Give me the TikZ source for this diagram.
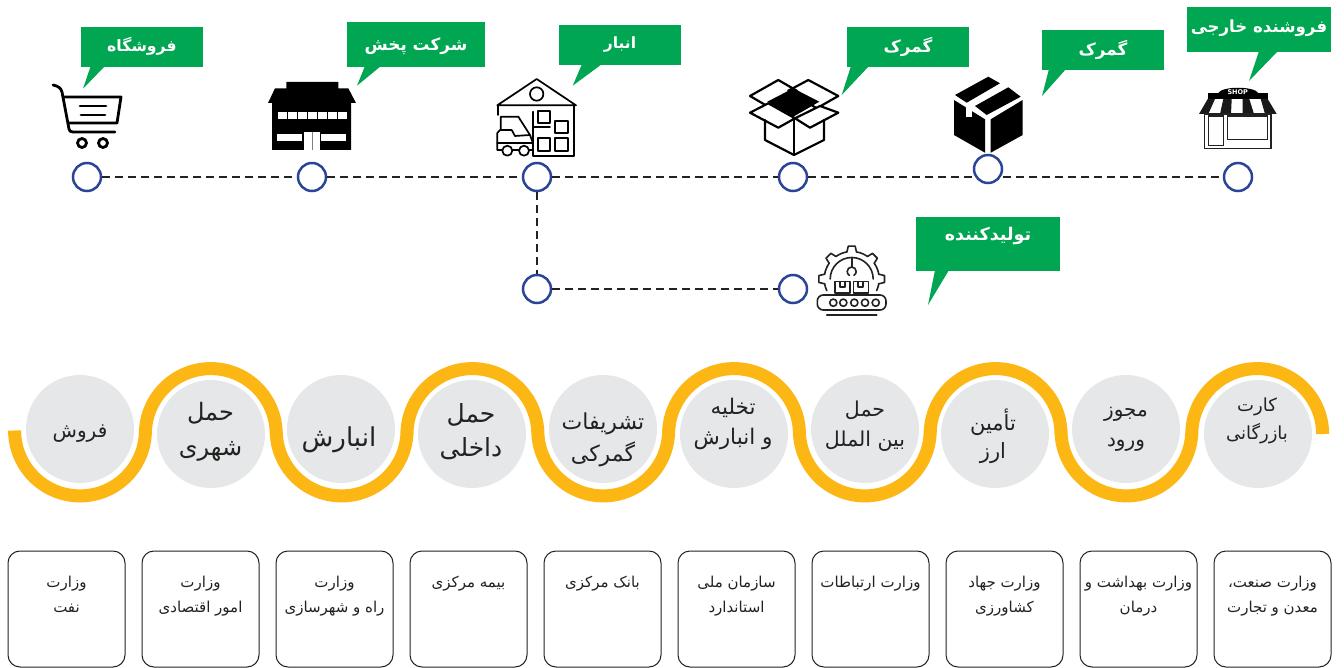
\documentclass[tikz,border=0pt]{standalone}
\usepackage{fontspec}
\usetikzlibrary{calc}
\setmainfont[Script=Arabic]{DejaVu Sans}
\newfontfamily\latinf{DejaVu Sans}
\TeXXeTstate=1
\newcommand{\RL}[1]{\beginR #1\endR}
\definecolor{tagg}{HTML}{00A651}
\definecolor{yell}{HTML}{FDB714}
\definecolor{disc}{HTML}{E6E7E8}
\definecolor{navy}{HTML}{2B4596}
\definecolor{ink}{HTML}{222222}
\newcommand{\fs}[2]{\fontsize{#1}{#2}\selectfont}
\tikzset{
  tagbox/.style={fill=tagg,inner sep=0,minimum width=122pt,minimum height=40pt},
  tagtext/.style={inner sep=0,text=white,font=\bfseries\fs{#1}{20}},
  tagtail/.style={fill=tagg,draw=none},
  stop/.style={circle,draw=navy,fill=white,line width=2.5pt,minimum size=28pt,inner sep=0},
  dashline/.style={draw=ink,line width=2.2pt,dash pattern=on 7.5pt off 5.5pt},
  disk/.style={circle,fill=disc,minimum size=108pt,inner sep=0},
  disktext/.style={inner sep=0,align=center,text=ink},
  minibox/.style={draw=ink,line width=1pt,rounded corners=12pt,minimum width=117pt,minimum height=116pt,inner sep=0,fill=white},
  minitext/.style={anchor=north,align=center,text=ink,inner sep=0,font=\fs{15}{25}},
  icon/.style={line width=2.8pt,draw=black,line cap=round,line join=round},
  thin icon/.style={line width=1.7pt,draw=black,line cap=round,line join=round},
}
\begin{document}
\begin{tikzpicture}[x=1pt,y=1pt,yscale=-1]
\useasboundingbox (0,0) rectangle (1344,668);
\fill[white] (0,0) rectangle (1344,668);

% ---------- timeline stops
\node[stop] (c1) at (87,177) {};
\node[stop] (c2) at (312,177) {};
\node[stop] (c3) at (537,177) {};
\node[stop] (c4) at (793,177) {};
\node[stop] (c6) at (1238,177) {};
\node[stop] (d1) at (537,289) {};
\node[stop] (d2) at (793,289) {};
\draw[dashline] (c1) -- (c2);
\draw[dashline] (c2) -- (c3);
\draw[dashline] (c3) -- (c4);
\draw[dashline] (c4) -- (c6);
\draw[dashline] (c3) -- (d1);
\draw[dashline] (d1) -- (d2);
\node[stop] (c5) at (988,169) {};

% ---------- callouts
\fill[tagtail] (90.7,66) -- (83,88.7) -- (105,66) -- cycle;
\node[tagbox] (t1) at (142,47) {};
\node[tagtext=15.7] (t1x) at (142,46) {\RL{فروشگاه}};
\fill[tagtail] (365,66) -- (357,85.7) -- (381,66) -- cycle;
\node[tagbox,minimum width=138pt,minimum height=45pt] (t2) at (416,44.5) {};
\node[tagtext=16.8] (t2x) at (416,46) {\RL{شرکت پخش}};
\fill[tagtail] (582,64) -- (572.7,85.7) -- (602,64) -- cycle;
\node[tagbox] (t3) at (620,45) {};
\node[tagtext=15.5] (t3x) at (620,45) {\RL{انبار}};
\fill[tagtail] (851,66) -- (841.7,95) -- (869,66) -- cycle;
\node[tagbox] (t4) at (908,47) {};
\node[tagtext=16.8] (t4x) at (908,47) {\RL{گمرک}};
\fill[tagtail] (1049,69) -- (1042,96) -- (1066,69) -- cycle;
\node[tagbox] (t5) at (1103,50) {};
\node[tagtext=16.8] (t5x) at (1103,50) {\RL{گمرک}};
\fill[tagtail] (1259,51) -- (1249,81) -- (1278,51) -- cycle;
\node[tagbox,minimum width=144pt,minimum height=45pt] (t6) at (1259,29.5) {};
\node[tagtext=16.6] (t6x) at (1259,28) {\RL{فروشنده خارجی}};
\fill[tagtail] (935,270) -- (928,305) -- (949,270) -- cycle;
\node[tagbox,minimum width=144pt,minimum height=54pt] (t7) at (988,244) {};
\node[tagtext=17.5] (t7x) at (988,236) {\RL{تولیدکننده}};

% ---------- cart icon
\draw[icon] (53,85) .. controls (58,86) and (61,88) .. (62,92) -- (69,129) .. controls (69.5,131) and (70,132) .. (73,132) -- (115,132);
\draw[icon] (63,97) -- (121,97) -- (117,123) -- (68,123);
\draw[icon] (80,106) -- (106,106);
\draw[icon] (81,115) -- (105,115);
\draw[icon] (82,143) circle (4.5);
\draw[icon] (103,143) circle (4.5);

% ---------- building icon
\fill[black] (286.3,82) -- (338.3,82) -- (338.3,88.3) -- (348.3,88.3) -- (356,103) -- (351,103) -- (351,150) -- (272,150) -- (272,103) -- (268,103) -- (275,88.3) -- (286.3,88.3) -- cycle;
\foreach \i in {0,...,6} \fill[white] (278.3+\i*10,111.7) rectangle ++(8.2,7.3);
\fill[white] (277,133.7) rectangle (302,141);
\fill[white] (320.7,133.7) rectangle (346,141);
\fill[white] (303.7,132.3) rectangle (320,150);
\draw[gray,line width=0.7pt] (312,132.3) -- (312,150);

% ---------- warehouse icon
\draw[thin icon] (497.3,105.3) -- (536.7,79) -- (576,105.3) -- cycle;
\draw[thin icon] (536.7,94) circle (6.7);
\draw[thin icon] (574,105.3) -- (574,156) -- (533.3,156) -- (533.3,111.7);
\draw[thin icon] (498.3,105.3) -- (498.3,115);
\draw[thin icon] (538.3,111) rectangle (550,122.7);
\draw[thin icon] (555.3,121) rectangle (568.3,132.7);
\draw[thin icon] (537.7,138.3) rectangle (550,150.7);
\draw[thin icon] (555.3,138.3) rectangle (568.3,150.7);
\draw[thin icon] (533.3,127.3) -- (550,127.3);
\draw[thin icon] (500.7,130) -- (500.7,116.7) -- (518.3,116.7) -- (530,135) -- (515,136) -- (511.7,130) -- (500,130) -- (497.3,133) -- (497.3,150) -- (533,150);
\draw[thin icon] (497.3,143.3) -- (533,143.3);
\draw[thin icon] (530,135) -- (533,143.3);
\draw[thin icon,fill=white] (507.3,150.7) circle (5);
\draw[thin icon,fill=white] (524,150.7) circle (5);

% ---------- open box icon
\begin{scope}[line width=2.2pt,line join=round,line cap=round]
\draw (750,96) -- (778.3,80) -- (796.7,90.7) -- (768.3,106.7) -- cycle;
\draw (788.3,90.7) -- (808.3,80) -- (838.3,96) -- (816.7,108.3) -- cycle;
\draw[fill=white] (750,112.7) -- (768.3,103.3) -- (795,118.3) -- (778.3,127.7) -- cycle;
\draw[fill=white] (795,118.3) -- (820,106) -- (838.3,112.7) -- (810,127.7) -- cycle;
\fill[black] (767.3,101.7) -- (793.3,88.3) -- (819.3,101.7) -- (793.3,116.7) -- cycle;
\draw (765,120) -- (765,140) -- (794,155) -- (824,140) -- (824,120);
\draw (794,118.3) -- (794,155);
\end{scope}

% ---------- closed box icon
\fill[black] (954,100) -- (985,119.3) -- (985,152.7) -- (954,135) -- cycle;
\fill[black] (990.7,119.3) -- (1022.7,100) -- (1022.7,135) -- (990.7,152.7) -- cycle;
\fill[black] (955,95) -- (988.3,76.7) -- (1000,83.3) -- (966.7,102.7) -- cycle;
\fill[black] (975,106) -- (1008.3,87.3) -- (1020.7,96.7) -- (986.7,115) -- cycle;
\fill[white] (966,106.7) rectangle (971.7,117.3);

% ---------- shop icon
\fill[black] (1218.3,93) .. controls (1222,86) and (1254,86) .. (1258.3,93) -- cycle;
\fill[black] (1207.7,92.7) rectangle (1267.7,99);
\fill[black!90] (1207.7,99) -- (1215,99) -- (1208.3,114) -- (1199,114) -- cycle;
\fill[black!90] (1223.3,99) -- (1231.7,99) -- (1231,114) -- (1220,114) -- cycle;
\fill[black!90] (1242.7,99) -- (1249.3,99) -- (1254,114) -- (1242.7,114) -- cycle;
\fill[black!90] (1260.7,99) -- (1267.7,99) -- (1276.7,114) -- (1265,114) -- cycle;
\draw[ink,line width=1.4pt] (1204.3,114) rectangle (1271,148.7);
\draw[ink,line width=1.4pt] (1208.3,116) rectangle (1223.3,145.3);
\draw[ink,line width=1.4pt] (1227.3,116) rectangle (1267.3,139.3);
\node[text=white,font=\latinf\bfseries\fs{6.5}{8},inner sep=0] (shop) at (1237.7,92.5) {SHOP};

% ---------- factory icon
\coordinate (gc) at (851.7,279);
\begin{scope}[line width=1.6pt,draw=ink,line join=round,line cap=round]
\foreach \a in {180,225,270,315,360} {
  \draw ($(gc)+(\a-10:27.5)$) -- ($(gc)+(\a-6:33)$) -- ($(gc)+(\a+6:33)$) -- ($(gc)+(\a+10:27.5)$);
}
\foreach \a in {190,235,280,325} \draw ($(gc)+(\a:27.5)$) arc (\a:\a+25:27.5);
\draw ($(gc)+(170:27.5)$) arc (170:155:27.5);
\draw ($(gc)+(10:27.5)$) arc (10:25:27.5);
\draw ($(gc)+(180:21.5)$) arc (180:360:21.5);
\draw[rounded corners=6pt,fill=white] (817.3,295) rectangle (886,310);
\foreach \x in {833.3,843.3,854.3,865,875.7} \draw (\x,302.7) circle (3.6);
\draw (826.7,315) -- (876.7,315);
\draw (835,281.7) rectangle (850,293.3);
\draw (853.3,281.7) rectangle (868.3,293.3);
\draw (840,281.7) -- (840,287) -- (845,287) -- (845,281.7);
\draw (858,281.7) -- (858,287) -- (863,287) -- (863,281.7);
\draw[line width=2pt] (851.7,258) -- (851.7,267);
\draw (851.7,267) arc (-90:60:4.5);
\draw (851.7,267) arc (-90:-240:4.5);
\end{scope}

% ---------- wave
\draw[yell,line width=13pt] (14.6,430.5)
  arc (180:0:65.4) -- ++(0,3.5) arc (180:360:65.4) -- ++(0,-3.5)
  arc (180:0:65.4) -- ++(0,3.5) arc (180:360:65.4) -- ++(0,-3.5)
  arc (180:0:65.4) -- ++(0,3.5) arc (180:360:65.4) -- ++(0,-3.5)
  arc (180:0:65.4) -- ++(0,3.5) arc (180:360:65.4) -- ++(0,-3.5)
  arc (180:0:65.4) -- ++(0,3.5) arc (180:360:65.4);

% ---------- step discs
\node[disk] (p1) at (80,429) {};
\node[disk] (p2) at (211,434) {};
\node[disk] (p3) at (341,429) {};
\node[disk] (p4) at (472,434) {};
\node[disk] (p5) at (603,429) {};
\node[disk] (p6) at (734,434) {};
\node[disk] (p7) at (865,429) {};
\node[disk] (p8) at (995,434) {};
\node[disk] (p9) at (1126,429) {};
\node[disk] (p10) at (1258,434) {};
\node[disktext,font=\fs{20}{30}] (q1) at (80,434) {\RL{فروش}};
\node[disktext,font=\fs{24}{35}] (q2) at (210.5,431.5) {\RL{حمل}\\\RL{شهری}};
\node[disktext,font=\fs{26}{36}] (q3) at (339,440) {\RL{انبارش}};
\node[disktext,font=\fs{25}{34}] (q4) at (471,432) {\RL{حمل}\\\RL{داخلی}};
\node[disktext,font=\fs{22}{32}] (q5) at (603,440) {\RL{تشریفات}\\\RL{گمرکی}};
\node[disktext,font=\fs{21.5}{30}] (q6) at (733,424) {\RL{تخلیه}\\\RL{و انبارش}};
\node[disktext,font=\fs{20.5}{30}] (q7) at (865,426) {\RL{حمل}\\\RL{بین الملل}};
\node[disktext,font=\fs{21}{28}] (q8) at (993,436) {\RL{تأمین}\\\RL{ارز}};
\node[disktext,font=\fs{20}{30}] (q9) at (1126,429) {\RL{مجوز}\\\RL{ورود}};
\node[disktext,font=\fs{18}{28}] (q10) at (1257,421) {\RL{کارت}\\\RL{بازرگانی}};

% ---------- ministries
\node[minibox] (b1) at (66.5,609) {};
\node[minibox] (b2) at (200.5,609) {};
\node[minibox] (b3) at (334.5,609) {};
\node[minibox] (b4) at (468.5,609) {};
\node[minibox] (b5) at (602.5,609) {};
\node[minibox] (b6) at (736.5,609) {};
\node[minibox] (b7) at (870.5,609) {};
\node[minibox] (b8) at (1004.5,609) {};
\node[minibox] (b9) at (1138.5,609) {};
\node[minibox] (b10) at (1272.5,609) {};
\node[minitext] (l1) at (66.5,576) {\RL{وزارت}\\\RL{نفت}};
\node[minitext] (l2) at (200.5,576) {\RL{وزارت}\\\RL{امور اقتصادی}};
\node[minitext] (l3) at (334.5,576) {\RL{وزارت}\\\RL{راه و شهرسازی}};
\node[minitext] (l4) at (468.5,576) {\RL{بیمه مرکزی}};
\node[minitext] (l5) at (602.5,576) {\RL{بانک مرکزی}};
\node[minitext] (l6) at (736.5,576) {\RL{سازمان ملی}\\\RL{استاندارد}};
\node[minitext] (l7) at (870.5,576) {\RL{وزارت ارتباطات}};
\node[minitext] (l8) at (1004.5,576) {\RL{وزارت جهاد}\\\RL{کشاورزی}};
\node[minitext] (l9) at (1138.5,576) {\RL{وزارت بهداشت و}\\\RL{درمان}};
\node[minitext] (l10) at (1272.5,576) {\RL{وزارت صنعت،}\\\RL{معدن و تجارت}};
\end{tikzpicture}
\end{document}
